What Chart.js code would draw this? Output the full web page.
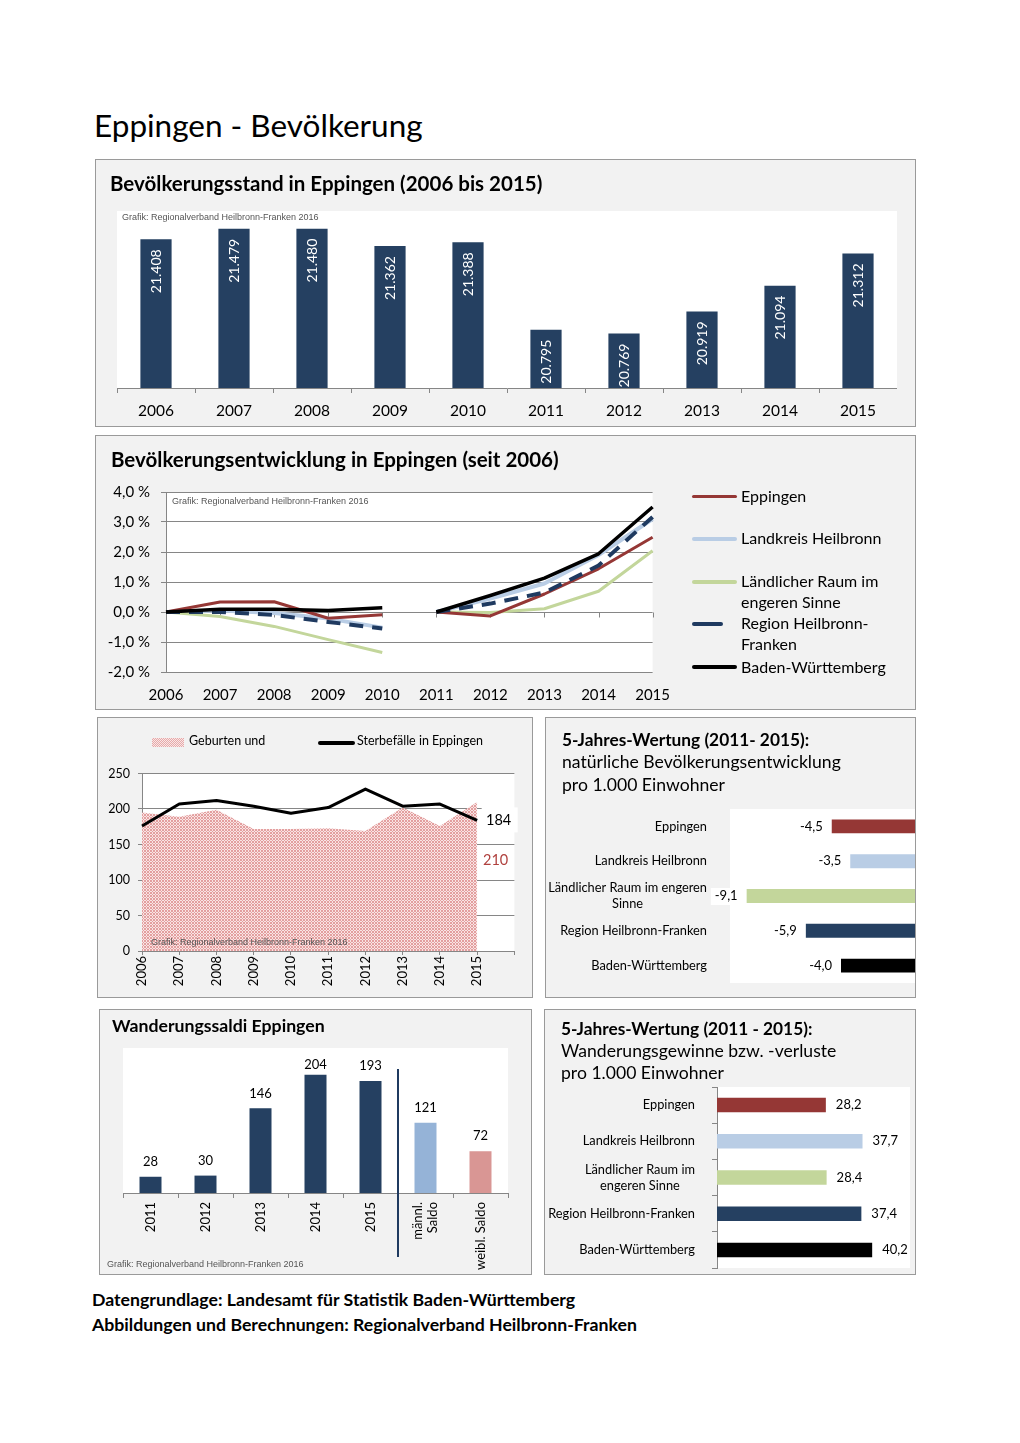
<!DOCTYPE html>
<html lang="de"><head><meta charset="utf-8"><title>Eppingen - Bevölkerung</title>
<script src="https://cdn.jsdelivr.net/npm/chart.js@4/dist/chart.umd.min.js"></script>
<style>
html,body{margin:0;padding:0;background:#fff}
body{position:relative;width:1020px;height:1443px;overflow:hidden;font-family:Lato,'Open Sans',sans-serif;color:#000}
.bg{position:absolute;background:#f2f2f2}
.fr{position:absolute;border:1.5px solid #9a9a9a;box-sizing:border-box}
.tx{position:absolute;white-space:nowrap;line-height:1}
canvas{position:absolute;display:block}
.sw{position:absolute;border-radius:2px}
</style></head><body>
<div class="bg" style="left:95px;top:159px;width:821px;height:268px"></div>
<div class="bg" style="left:95px;top:435px;width:821px;height:275px"></div>
<div class="bg" style="left:97px;top:717px;width:436px;height:281px"></div>
<div class="bg" style="left:545px;top:717px;width:371px;height:281px"></div>
<div class="bg" style="left:99px;top:1009px;width:433px;height:266px"></div>
<div class="bg" style="left:544px;top:1009px;width:372px;height:266px"></div>

<canvas id="c1" width="780" height="210" style="left:117px;top:211px;width:780px;height:210px"></canvas>
<canvas id="c2" width="584" height="234" style="left:100px;top:472px;width:584px;height:234px"></canvas>
<canvas id="c3" width="431" height="237" style="left:100px;top:758px;width:431px;height:237px"></canvas>
<canvas id="c4" width="368" height="185" style="left:547px;top:805px;width:368px;height:185px"></canvas>
<canvas id="c5" width="410" height="235" style="left:110px;top:1040px;width:410px;height:235px"></canvas>
<canvas id="c6" width="367" height="190" style="left:546px;top:1083px;width:367px;height:190px"></canvas>

<div class="fr" style="left:95px;top:159px;width:821px;height:268px"></div>
<div class="fr" style="left:95px;top:435px;width:821px;height:275px"></div>
<div class="fr" style="left:97px;top:717px;width:436px;height:281px"></div>
<div class="fr" style="left:545px;top:717px;width:371px;height:281px"></div>
<div class="fr" style="left:99px;top:1009px;width:433px;height:266px"></div>
<div class="fr" style="left:544px;top:1009px;width:372px;height:266px"></div>

<!-- legend swatches chart 2 -->
<div class="sw" style="left:692px;top:495px;width:45px;height:3px;background:#953735"></div>
<div class="sw" style="left:692px;top:537px;width:45px;height:4px;background:#b9cde5"></div>
<div class="sw" style="left:692px;top:580px;width:45px;height:4px;background:#c3d69b"></div>
<div class="sw" style="left:692px;top:622px;width:31px;height:4px;background:#1f3a60"></div>
<div class="sw" style="left:692px;top:665px;width:45px;height:4px;background:#000"></div>
<!-- legend swatches chart 3 -->
<div style="position:absolute;left:152px;top:738px;width:32px;height:9px;background:repeating-conic-gradient(#e6a9a9 0 25%,#f9e6e6 0 50%) 0 0/2px 2px"></div>
<div class="sw" style="left:318px;top:741px;width:37px;height:4px;background:#000"></div>

<div id="texts"></div>

<script>
const F = "Lato, 'Open Sans', sans-serif";
const GRID = '#868686';

// ---------- data ----------
const years = ['2006','2007','2008','2009','2010','2011','2012','2013','2014','2015'];
const popValues = [21408,21479,21480,21362,21388,20795,20769,20919,21094,21312];
const popMin = 20400, popMax = 21600;

const devTicksMin = -2, devTicksMax = 4;
const devEppingen  = [0,0.33,0.34,-0.21,-0.09, 0,-0.13,0.60,1.44,2.49];
const devLandkreis = [0,0.05,-0.03,-0.22,-0.52, 0,0.45,0.95,1.90,3.10];
const devLaendlich = [0,-0.15,-0.48,-0.92,-1.35, 0,-0.02,0.11,0.69,2.04];
const devRegion    = [0,0.00,-0.10,-0.33,-0.55, 0,0.28,0.65,1.55,3.17];
const devBW        = [0,0.09,0.09,0.05,0.14, 0,0.55,1.13,1.94,3.50];

const ndYears = [...years, ''];
const births = [195,189,199,172,172,173,169,202,176,210];
const deaths = [176,207,212,204,194,202,228,204,207,184];

const natRegions = ['Eppingen','Landkreis Heilbronn',['Ländlicher Raum im engeren','Sinne'],'Region Heilbronn-Franken','Baden-Württemberg'];
const natValues = [-4.5,-3.5,-9.1,-5.9,-4.0];

const migCats = ['2011','2012','2013','2014','2015',['männl.','Saldo'],'weibl. Saldo'];
const migValues = [28,30,146,204,193,121,72];

const rateRegions = ['Eppingen','Landkreis Heilbronn',['Ländlicher Raum im','engeren Sinne'],'Region Heilbronn-Franken','Baden-Württemberg'];
const rateValues = [28.2,37.7,28.4,37.4,40.2];

const regionColors = ['#953735','#b9cde5','#c3d69b','#254061','#000000'];
const migColors = ['#254061','#254061','#254061','#254061','#254061','#95b3d7','#d99694'];

// ---------- helpers ----------
const fmt1 = v => v.toFixed(1).replace('.', ',');
const fmtK = v => String(v).replace(/\B(?=(\d{3})+(?!\d))/g, '.');
function base(extra){
  return Object.assign({animation:false,responsive:false,maintainAspectRatio:false,events:[],
    plugins:{legend:{display:false},tooltip:{enabled:false}}}, extra);
}
const whiteArea = {id:'whiteArea', beforeDraw(c){const a=c.chartArea,x=c.ctx;x.save();x.fillStyle='#fff';x.fillRect(a.left,a.top,a.right-a.left,a.bottom-a.top);x.restore();}};
function sideLabels(labels, gap, size, lh){
  return {id:'sideLabels', afterDraw(c){
    const s=c.scales.y, ctx=c.ctx; ctx.save(); ctx.font=size+'px '+F; ctx.fillStyle='#000';
    ctx.textAlign='center'; ctx.textBaseline='middle';
    const xr=c.chartArea.left-gap;
    labels.forEach((lab,i)=>{
      const lines=Array.isArray(lab)?lab:[lab];
      const w=Math.max(...lines.map(l=>ctx.measureText(l).width));
      const yc=s.getPixelForValue(i);
      lines.forEach((l,j)=>ctx.fillText(l, xr-w/2, yc+(j-(lines.length-1)/2)*lh));
    });
    ctx.restore();
  }};
}

// ---------- texts ----------
function T(x, baseline, size, weight, text, extra){
  const d=document.createElement('div'); d.className='tx'; d.textContent=text;
  d.style.cssText=`left:${x}px;top:${baseline-0.887*size}px;font-size:${size}px;font-weight:${weight};`+(extra||'');
  document.getElementById('texts').appendChild(d);
}
function N(x, baseline, text){
  const d=document.createElement('div'); d.className='tx'; d.textContent=text;
  d.style.cssText=`left:${x}px;top:${baseline-7.6}px;font-size:9px;font-family:'Liberation Sans',Arial,sans-serif;color:#555;`;
  document.getElementById('texts').appendChild(d);
}
T(94,138,31.5,400,'Eppingen - Bevölkerung');
T(110,191,20.5,700,'Bevölkerungsstand in Eppingen (2006 bis 2015)');
T(111,467,20.5,700,'Bevölkerungsentwicklung in Eppingen (seit 2006)');
T(741,502,16,400,'Eppingen');
T(741,544,16,400,'Landkreis Heilbronn');
T(741,587,16,400,'Ländlicher Raum im');
T(741,608,16,400,'engeren Sinne');
T(741,629,16,400,'Region Heilbronn-');
T(741,650,16,400,'Franken');
T(741,673,16,400,'Baden-Württemberg');
T(189,746,12.5,400,'Geburten und');
T(357,746,12.5,400,'Sterbefälle in Eppingen');
T(562,746,17.3,700,'5-Jahres-Wertung (2011- 2015):');
T(562,769,17.6,400,'natürliche Bevölkerungsentwicklung');
T(562,792,17.6,400,'pro 1.000 Einwohner');
T(112,1033,17.7,700,'Wanderungssaldi Eppingen');
T(561,1035,17.3,700,'5-Jahres-Wertung (2011 - 2015):');
T(561,1058,17.6,400,'Wanderungsgewinne bzw. -verluste');
T(561,1080,17.6,400,'pro 1.000 Einwohner');
T(92,1307,17.7,700,'Datengrundlage: Landesamt für Statistik Baden-Württemberg');
T(92,1332,17.7,700,'Abbildungen und Berechnungen: Regionalverband Heilbronn-Franken');
N(122,221,'Grafik: Regionalverband Heilbronn-Franken 2016');
N(172,504.5,'Grafik: Regionalverband Heilbronn-Franken 2016');
N(151,945.5,'Grafik: Regionalverband Heilbronn-Franken 2016');
N(107,1268,'Grafik: Regionalverband Heilbronn-Franken 2016');

// ---------- chart 1: Bevölkerungsstand ----------
const popLabels = {id:'popLabels', afterDatasetsDraw(c){
  const ctx=c.ctx; ctx.save(); ctx.fillStyle='#fff'; ctx.font='14px '+F; ctx.textAlign='right'; ctx.textBaseline='middle';
  c.getDatasetMeta(0).data.forEach((el,i)=>{ctx.save(); ctx.translate(el.x, el.y+10); ctx.rotate(-Math.PI/2); ctx.fillText(fmtK(popValues[i]),0,0); ctx.restore();});
  ctx.restore();
}};
new Chart(document.getElementById('c1'), {
  type:'bar',
  data:{labels:years, datasets:[{data:popValues, backgroundColor:'#254061', barPercentage:0.4, categoryPercentage:1}]},
  options:base({layout:{padding:0}, scales:{
    x:{grid:{offset:true, drawOnChartArea:false, color:GRID, tickLength:5}, border:{color:GRID},
       ticks:{font:{family:F,size:15.5}, color:'#000', padding:9}, afterFit(s){s.height=33;}},
    y:{display:false, min:popMin, max:popMax}
  }}),
  plugins:[whiteArea, popLabels]
});

// ---------- chart 2: Bevölkerungsentwicklung ----------
function lineDs(data, color, width, dash, order){
  return {data, borderColor:color, borderWidth:width, borderDash:dash, pointRadius:0, tension:0, fill:false, order,
    borderJoinStyle:'round', segment:{borderColor: ctx => ctx.p0DataIndex===4 ? 'rgba(0,0,0,0)' : color}};
}
const zeroTicks = {id:'zeroTicks', beforeDatasetsDraw(c){
  const x=c.scales.x, y=c.scales.y, ctx=c.ctx, y0=Math.round(y.getPixelForValue(0))+0.5;
  ctx.save(); ctx.strokeStyle=GRID; ctx.lineWidth=1;
  for(let i=1;i<x.ticks.length;i++){const px=Math.round(x.getPixelForTick(i))+0.5; ctx.beginPath(); ctx.moveTo(px,y0); ctx.lineTo(px,y0+5); ctx.stroke();}
  ctx.restore();
}};
new Chart(document.getElementById('c2'), {
  type:'line',
  data:{labels:years, datasets:[
    lineDs(devLandkreis,'#b9cde5',4,[],5),
    lineDs(devLaendlich,'#c3d69b',3,[],4),
    lineDs(devEppingen,'#953735',3,[],3),
    lineDs(devRegion,'#1f3a60',4,[14,9],2),
    lineDs(devBW,'#000000',3.5,[],1)
  ]},
  options:base({layout:{padding:{top:1,right:1,left:0,bottom:0}}, scales:{
    x:{offset:false, grid:{display:false, drawTicks:false}, border:{display:false},
       ticks:{font:{family:F,size:15}, color:'#000', padding:14, autoSkip:false, maxRotation:0}, afterFit(s){s.height=34;}},
    y:{min:devTicksMin, max:devTicksMax, grid:{color:GRID, tickLength:5}, border:{display:true,color:GRID},
       ticks:{stepSize:1, callback:v=>fmt1(v)+' %', font:{family:F,size:15}, color:'#000', padding:11}, afterFit(s){s.width=66;}}
  }}),
  plugins:[whiteArea, zeroTicks]
});

// ---------- chart 3: Geburten und Sterbefälle ----------
const pc=document.createElement('canvas'); pc.width=3; pc.height=3;
const pg=pc.getContext('2d'); pg.fillStyle='#f9e4e4'; pg.fillRect(0,0,3,3); pg.fillStyle='#e39f9f';
pg.fillRect(0,0,1,1); pg.fillRect(2,0,1,1); pg.fillRect(1,1,1,1); pg.fillRect(0,2,1,1); pg.fillRect(2,2,1,1);
const pattern=pg.createPattern(pc,'repeat');
const ndLabels = {id:'ndLabels', afterDatasetsDraw(c){
  const x=c.scales.x, y=c.scales.y, ctx=c.ctx, i=births.length-1;
  const px=x.getPixelForValue(i)+21.5, dy=y.getPixelForValue(deaths[i]);
  ctx.save(); ctx.fillStyle='#fff'; ctx.fillRect(px-17, dy-13, 36, 25);
  ctx.font='14.5px '+F; ctx.textAlign='center'; ctx.textBaseline='middle';
  ctx.fillStyle='#000'; ctx.fillText(String(deaths[i]), px, dy);
  ctx.fillStyle='#b0413e'; ctx.fillText(String(births[i]), px-3, dy+40);
  ctx.restore();
}};
new Chart(document.getElementById('c3'), {
  type:'line',
  data:{labels:ndYears, datasets:[
    {data:[...births,null], fill:'origin', backgroundColor:pattern, borderWidth:0, pointRadius:0, tension:0, order:2},
    {data:[...deaths,null], fill:false, borderColor:'#000', borderWidth:3, pointRadius:0, tension:0, order:1, borderJoinStyle:'round'}
  ]},
  options:base({layout:{padding:{top:1,right:1,left:0,bottom:0}}, scales:{
    x:{offset:false, grid:{drawOnChartArea:false, color:GRID, tickLength:4}, border:{color:GRID},
       ticks:{font:{family:F,size:13}, color:'#000', padding:1, autoSkip:false, minRotation:90, maxRotation:90}, afterFit(s){s.height=44;}},
    y:{min:0, max:250, grid:{color:GRID, tickLength:4}, border:{display:true,color:GRID},
       ticks:{stepSize:50, font:{family:F,size:12.5}, color:'#000', padding:8}, afterFit(s){s.width=42;}}
  }}),
  plugins:[whiteArea, ndLabels]
});

// ---------- chart 4: natürliche Bevölkerungsentwicklung ----------
const natVals = {id:'natVals', afterDatasetsDraw(c){
  const ctx=c.ctx; ctx.save(); ctx.font='13px '+F; ctx.textAlign='right'; ctx.textBaseline='middle';
  c.getDatasetMeta(0).data.forEach((el,i)=>{
    const t=fmt1(natValues[i]), w=ctx.measureText(t).width, xr=el.x-9;
    ctx.fillStyle='#fff'; ctx.fillRect(xr-w-4, el.y-8, w+8, 17);
    ctx.fillStyle='#000'; ctx.fillText(t, xr, el.y);
  });
  ctx.restore();
}};
new Chart(document.getElementById('c4'), {
  type:'bar',
  data:{labels:natRegions, datasets:[{data:natValues, backgroundColor:regionColors, barPercentage:0.4, categoryPercentage:1}]},
  options:base({indexAxis:'y', layout:{padding:{top:4,bottom:7,left:0,right:0}}, scales:{
    x:{display:false, min:-10, max:0},
    y:{grid:{display:false}, border:{display:false}, ticks:{display:false}, afterFit(s){s.width=183;}}
  }}),
  plugins:[whiteArea, natVals, sideLabels(natRegions, 23, 12.8, 16)]
});

// ---------- chart 5: Wanderungssaldi ----------
const migDeco = {id:'migDeco', afterDraw(c){
  const s=c.scales.x, a=c.chartArea, ctx=c.ctx;
  ctx.save();
  ctx.font='13px '+F; ctx.fillStyle='#000'; ctx.textAlign='center'; ctx.textBaseline='middle';
  c.getDatasetMeta(0).data.forEach((el,i)=>ctx.fillText(String(migValues[i]), el.x, Math.max(el.y-15, a.top+17)));
  const sx=(s.getPixelForValue(4)+s.getPixelForValue(5))/2;
  ctx.strokeStyle='#1f3a60'; ctx.lineWidth=2; ctx.beginPath(); ctx.moveTo(sx, a.top+21); ctx.lineTo(sx, a.bottom+64); ctx.stroke();
  ctx.textAlign='right';
  migCats.forEach((lab,i)=>{
    const lines=Array.isArray(lab)?lab:[lab], px=s.getPixelForValue(i);
    ctx.save(); ctx.translate(px, a.bottom+9); ctx.rotate(-Math.PI/2);
    lines.forEach((l,j)=>ctx.fillText(l, 0, (j-(lines.length-1)/2)*15));
    ctx.restore();
  });
  ctx.restore();
}};
new Chart(document.getElementById('c5'), {
  type:'bar',
  data:{labels:migCats, datasets:[{data:migValues, backgroundColor:migColors, barPercentage:0.4, categoryPercentage:1}]},
  options:base({layout:{padding:{top:8,left:13,right:12,bottom:0}}, scales:{
    x:{grid:{offset:true, drawOnChartArea:false, color:GRID, tickLength:5}, border:{color:GRID}, ticks:{display:false}, afterFit(s){s.height=82;}},
    y:{display:false, min:0, max:250}
  }}),
  plugins:[whiteArea, migDeco]
});

// ---------- chart 6: Wanderungsgewinne ----------
const rateVals = {id:'rateVals', afterDatasetsDraw(c){
  const ctx=c.ctx; ctx.save(); ctx.font='13px '+F; ctx.textAlign='left'; ctx.textBaseline='middle'; ctx.fillStyle='#000';
  c.getDatasetMeta(0).data.forEach((el,i)=>ctx.fillText(fmt1(rateValues[i]), el.x+10, el.y));
  ctx.restore();
}};
new Chart(document.getElementById('c6'), {
  type:'bar',
  data:{labels:rateRegions, datasets:[{data:rateValues, backgroundColor:regionColors, barPercentage:0.4, categoryPercentage:1}]},
  options:base({indexAxis:'y', layout:{padding:{top:4,bottom:5,left:0,right:3}}, scales:{
    x:{display:false, min:0, max:50},
    y:{grid:{offset:true, drawOnChartArea:false, color:GRID, tickLength:5}, border:{display:true,color:GRID}, ticks:{display:false}, afterFit(s){s.width=171;}}
  }}),
  plugins:[whiteArea, rateVals, sideLabels(rateRegions, 22, 12.8, 16)]
});
</script>
</body></html>
